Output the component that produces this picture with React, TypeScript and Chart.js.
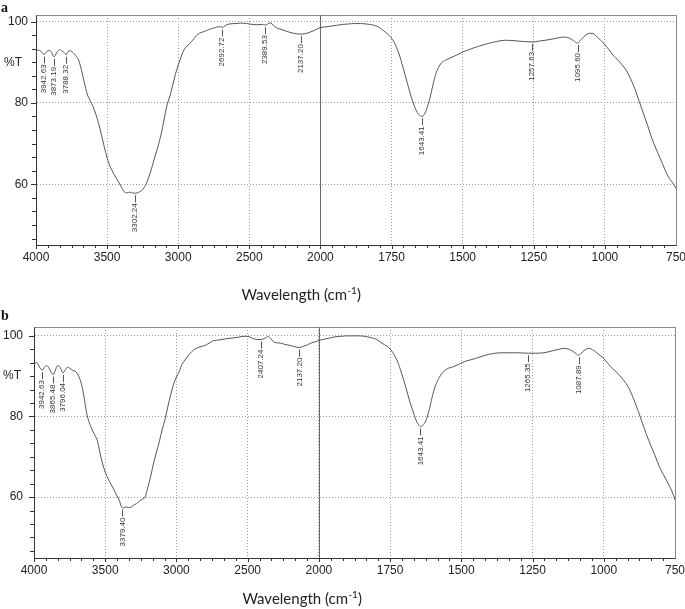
import React, { useEffect, useRef } from "react";
import { Chart, LinearScale, registerables } from "chart.js";

// ---------- data ----------
const X_TICKS = [4000, 3500, 3000, 2500, 2000, 1750, 1500, 1250, 1000, 750];
const Y_TICKS = [60, 80, 100];
const Y_UNIT_AT = 90;
const Y_UNIT = "%T";
const X_TITLE = "Wavelength (cm";
const X_TITLE_SUP = "-1";
const X_TITLE_END = ")";

const A_WN = [4000, 3985, 3965, 3942, 3925, 3905, 3890, 3873, 3855, 3835, 3815, 3800, 3788, 3775, 3760, 3740, 3720, 3700, 3680, 3660, 3640, 3620, 3600, 3580, 3560, 3540, 3520, 3500, 3480, 3460, 3440, 3420, 3400, 3380, 3360, 3340, 3320, 3300, 3280, 3260, 3240, 3220, 3200, 3180, 3160, 3140, 3120, 3100, 3080, 3060, 3040, 3020, 3000, 2980, 2960, 2940, 2920, 2900, 2880, 2860, 2840, 2820, 2800, 2780, 2760, 2740, 2720, 2700, 2692, 2680, 2660, 2640, 2600, 2560, 2520, 2480, 2440, 2410, 2390, 2370, 2355, 2340, 2320, 2300, 2270, 2240, 2200, 2170, 2137, 2110, 2080, 2050, 2020, 2000, 1980, 1960, 1940, 1920, 1900, 1880, 1860, 1840, 1820, 1800, 1785, 1770, 1755, 1740, 1725, 1710, 1695, 1680, 1665, 1655, 1643, 1635, 1625, 1615, 1605, 1595, 1585, 1575, 1560, 1545, 1520, 1500, 1470, 1440, 1410, 1380, 1350, 1320, 1290, 1257, 1230, 1200, 1170, 1145, 1125, 1110, 1096, 1085, 1070, 1055, 1045, 1030, 1015, 1000, 985, 970, 955, 940, 925, 910, 895, 880, 865, 850, 835, 820, 805, 790, 775, 760, 750];
const A_T = [92.5, 93.0, 92.7, 91.9, 92.6, 92.9, 92.4, 91.3, 92.3, 93.1, 92.7, 92.3, 91.8, 92.6, 92.8, 92.4, 91.6, 90.5, 88.0, 85.0, 82.2, 80.6, 79.2, 77.3, 75.0, 72.2, 69.2, 66.5, 64.5, 63.0, 61.8, 60.6, 59.4, 58.2, 57.9, 58.1, 57.9, 57.8, 58.0, 58.4, 59.2, 60.5, 62.5, 64.8, 67.2, 69.6, 72.3, 75.8, 79.3, 81.5, 84.2, 87.0, 89.3, 91.3, 93.0, 93.9, 94.6, 95.3, 96.2, 96.9, 97.3, 97.5, 97.8, 98.1, 98.3, 98.5, 98.7, 98.7, 98.5, 98.7, 99.2, 99.4, 99.5, 99.6, 99.5, 99.3, 99.2, 99.3, 99.1, 99.4, 99.7, 99.4, 98.7, 98.3, 98.0, 97.6, 97.2, 97.0, 96.9, 97.0, 97.3, 97.7, 98.2, 98.5, 98.7, 98.9, 99.1, 99.3, 99.4, 99.5, 99.5, 99.4, 99.2, 98.8, 98.1, 97.3, 96.3, 94.8, 92.3, 88.8, 85.0, 81.3, 78.4, 77.2, 76.7, 77.2, 78.8, 81.2, 84.3, 87.0, 88.7, 89.8, 90.5, 91.0, 91.8, 92.5, 93.3, 94.0, 94.6, 95.1, 95.4, 95.3, 95.1, 95.0, 95.2, 95.5, 95.9, 96.2, 95.9, 95.3, 94.7, 95.5, 96.5, 97.1, 97.1, 96.4, 95.4, 94.3, 93.0, 91.6, 90.6, 89.4, 88.0, 86.0, 83.5, 80.5, 77.5, 74.5, 71.3, 68.7, 66.3, 63.8, 61.6, 60.2, 59.0];
const A_PEAKS = ["3942.63", "3873.19", "3788.32", "3302.24", "2692.72", "2389.53", "2137.20", "1643.41", "1257.63", "1095.60"];

const B_WN = [4000, 3985, 3975, 3960, 3943, 3925, 3910, 3895, 3880, 3865, 3850, 3835, 3820, 3808, 3796, 3780, 3765, 3750, 3730, 3710, 3690, 3675, 3660, 3645, 3630, 3615, 3600, 3585, 3570, 3555, 3540, 3520, 3500, 3480, 3460, 3440, 3420, 3400, 3385, 3370, 3355, 3340, 3320, 3300, 3280, 3260, 3240, 3220, 3200, 3180, 3160, 3140, 3120, 3100, 3080, 3060, 3040, 3020, 3000, 2980, 2960, 2940, 2920, 2900, 2880, 2860, 2840, 2820, 2800, 2780, 2760, 2740, 2720, 2700, 2680, 2650, 2600, 2560, 2520, 2490, 2460, 2430, 2407, 2380, 2355, 2340, 2320, 2300, 2270, 2240, 2200, 2170, 2137, 2110, 2080, 2050, 2020, 2000, 1980, 1960, 1940, 1920, 1900, 1880, 1860, 1840, 1820, 1800, 1785, 1770, 1755, 1740, 1725, 1710, 1695, 1680, 1665, 1655, 1643, 1635, 1625, 1615, 1605, 1595, 1585, 1570, 1550, 1530, 1510, 1490, 1470, 1450, 1420, 1390, 1360, 1330, 1300, 1265, 1240, 1210, 1180, 1155, 1140, 1120, 1105, 1088, 1075, 1062, 1052, 1040, 1025, 1010, 1000, 985, 970, 955, 940, 925, 910, 895, 880, 865, 850, 835, 820, 805, 790, 775, 760, 750];
const B_T = [92.7, 93.4, 93.2, 92.2, 91.5, 92.3, 92.6, 92.0, 91.0, 90.4, 91.5, 92.6, 92.4, 91.5, 90.8, 91.6, 92.2, 92.0, 91.5, 91.2, 90.3, 89.0, 87.0, 84.0, 80.8, 78.8, 77.4, 76.2, 75.2, 74.0, 71.5, 68.5, 66.2, 64.6, 63.2, 61.9, 60.5, 59.1, 57.5, 57.3, 57.6, 57.4, 57.5, 58.0, 58.4, 59.0, 59.5, 60.0, 62.5, 65.3, 68.5, 71.2, 73.8, 76.8, 79.3, 82.5, 85.5, 88.0, 89.8, 91.2, 93.0, 94.0, 95.0, 95.8, 96.5, 96.9, 97.2, 97.4, 97.6, 98.0, 98.4, 98.8, 98.9, 99.0, 99.1, 99.3, 99.5, 99.7, 99.9, 99.8, 99.3, 99.1, 99.1, 99.4, 99.8, 99.4, 98.6, 98.3, 98.2, 97.9, 97.6, 97.3, 97.1, 97.4, 97.8, 98.3, 98.6, 98.9, 99.2, 99.5, 99.8, 99.9, 100.0, 100.0, 100.0, 99.9, 99.6, 99.2, 98.5, 97.8, 97.1, 95.8, 93.8, 90.8, 87.3, 83.5, 80.3, 78.5, 77.5, 77.8, 78.9, 81.0, 84.0, 86.8, 88.6, 90.5, 91.8, 92.3, 92.9, 93.6, 94.0, 94.4, 95.1, 95.6, 95.8, 95.8, 95.8, 95.7, 95.7, 95.8, 96.3, 96.7, 96.9, 96.6, 96.0, 95.2, 96.0, 96.7, 96.9, 96.6, 95.8, 95.0, 94.4, 93.1, 91.9, 91.0, 89.8, 88.5, 86.8, 84.3, 81.5, 78.5, 75.5, 72.8, 70.3, 67.6, 65.5, 63.5, 61.3, 59.3];
const B_PEAKS = ["3942.63", "3865.48", "3796.04", "3379.40", "2407.24", "2137.20", "1643.41", "1265.35", "1087.89"];

// ---------- piecewise FTIR axis (4000-2000 by 500, 2000-750 by 250) ----------
const BREAK = 2000;
function toU(v: number) {
  return v >= BREAK ? (4000 - v) / 500 : 4 + (BREAK - v) / 250;
}
function fromU(u: number) {
  return u <= 4 ? 4000 - u * 500 : BREAK - (u - 4) * 250;
}
const U_SPAN = toU(750);

class FtirScale extends LinearScale {
  static id = "ftir";
  static defaults = {};
  buildTicks() {
    return X_TICKS.map((value) => ({ value }));
  }
  getPixelForValue(value: any) {
    if (value === null || value === undefined || isNaN(value)) return NaN;
    return this.getPixelForDecimal(toU(value) / U_SPAN);
  }
  getValueForPixel(pixel: number) {
    return fromU(this.getDecimalForPixel(pixel) * U_SPAN);
  }
}

Chart.register(...registerables, FtirScale);

function valueAt(wn: number[], t: number[], x: number) {
  for (let i = 0; i < wn.length - 1; i++) {
    const a = wn[i], b = wn[i + 1];
    if ((x <= a && x >= b) || (x >= a && x <= b)) {
      const f = (x - a) / (b - a);
      return t[i] + f * (t[i + 1] - t[i]);
    }
  }
  return t[t.length - 1];
}

type Lay = {
  top: number; right: number; yw: number; xh: number; ymin: number; ymax: number;
  ypad: number; unitGap: number; titleX: number; titleDy: number;
};

function decorPlugin(wn: number[], t: number[], peaks: string[], lay: Lay) {
  return {
    id: "ftirDecor",
    beforeDatasetsDraw(chart: any) {
      const { ctx, chartArea: a, scales } = chart;
      const xs = scales.x, ys = scales.y;
      ctx.save();
      // frame top & right
      ctx.strokeStyle = "#8a8a8a";
      ctx.lineWidth = 1;
      ctx.setLineDash([]);
      ctx.beginPath();
      ctx.moveTo(Math.round(a.left) + 0.5, Math.round(a.top) + 0.5);
      ctx.lineTo(Math.round(a.right) + 0.5, Math.round(a.top) + 0.5);
      ctx.lineTo(Math.round(a.right) + 0.5, Math.round(a.bottom) + 0.5);
      ctx.stroke();
      // solid line at the scale break
      const xb = Math.round(xs.getPixelForValue(BREAK)) + 0.5;
      ctx.strokeStyle = "#6a6a6a";
      ctx.beginPath();
      ctx.moveTo(xb, a.top);
      ctx.lineTo(xb, a.bottom);
      ctx.stroke();
      // tick marks x
      ctx.strokeStyle = "#333";
      ctx.beginPath();
      for (let i = 0; i < X_TICKS.length - 1; i++) {
        const v0 = X_TICKS[i], v1 = X_TICKS[i + 1];
        for (let k = 0; k < 6; k++) {
          const v = v0 + ((v1 - v0) * k) / 6;
          const px = Math.round(xs.getPixelForValue(v)) + 0.5;
          ctx.moveTo(px, a.bottom);
          ctx.lineTo(px, a.bottom + (k === 0 ? 4 : 3));
        }
      }
      // tick marks y
      for (let v = 100; v > ys.min; v -= 20 / 6) {
        const py = Math.round(ys.getPixelForValue(v)) + 0.5;
        const major = Math.abs(v - Math.round(v / 20) * 20) < 0.01;
        ctx.moveTo(a.left - (major ? 5 : 4), py);
        ctx.lineTo(a.left, py);
      }
      ctx.stroke();
      ctx.restore();
    },
    afterDatasetsDraw(chart: any) {
      const { ctx, chartArea: a, scales } = chart;
      const xs = scales.x, ys = scales.y;
      ctx.save();
      // peak labels
      ctx.font = "8px 'Liberation Sans', Arial, sans-serif";
      ctx.fillStyle = "#333";
      ctx.strokeStyle = "#555";
      ctx.lineWidth = 1;
      peaks.forEach((p) => {
        const v = parseFloat(p);
        const x = xs.getPixelForValue(v);
        const y = ys.getPixelForValue(valueAt(wn, t, v)) + 2;
        const xr = Math.round(x) + 0.5;
        ctx.beginPath();
        ctx.moveTo(xr, y);
        ctx.lineTo(xr, y + 7);
        ctx.stroke();
        ctx.save();
        ctx.translate(x, y + 8);
        ctx.rotate(-Math.PI / 2);
        ctx.textAlign = "right";
        ctx.textBaseline = "middle";
        ctx.fillText(p, 0, 0);
        ctx.restore();
      });
      // unit label
      ctx.font = "12px 'Liberation Sans', Arial, sans-serif";
      ctx.fillStyle = "#222";
      ctx.textAlign = "right";
      ctx.textBaseline = "middle";
      ctx.fillText(Y_UNIT, a.left - lay.unitGap, ys.getPixelForValue(Y_UNIT_AT));
      // x title
      const f1 = "15px Lato, 'Open Sans', sans-serif";
      const f2 = "10px Lato, 'Open Sans', sans-serif";
      ctx.textAlign = "left";
      ctx.textBaseline = "alphabetic";
      ctx.font = f1;
      const w1 = ctx.measureText(X_TITLE).width;
      const w3 = ctx.measureText(X_TITLE_END).width;
      ctx.font = f2;
      const w2 = ctx.measureText(X_TITLE_SUP).width;
      const x0 = lay.titleX - (w1 + w2 + w3) / 2;
      const yb = a.bottom + lay.titleDy;
      ctx.font = f1;
      ctx.fillText(X_TITLE, x0, yb);
      ctx.fillText(X_TITLE_END, x0 + w1 + w2 + 0.5, yb);
      ctx.font = f2;
      ctx.fillText(X_TITLE_SUP, x0 + w1 + 0.3, yb - 6);
      ctx.restore();
    },
  };
}

function makeConfig(wn: number[], t: number[], peaks: string[], lay: Lay): any {
  const tickFont = { family: "'Liberation Sans', Arial, sans-serif", size: 12 };
  return {
    type: "line",
    data: {
      datasets: [
        {
          data: wn.map((x, i) => ({ x, y: t[i] })),
          borderColor: "#555",
          borderWidth: 1,
          pointRadius: 0,
          fill: false,
          cubicInterpolationMode: "monotone",
        },
      ],
    },
    options: {
      responsive: false,
      animation: false,
      events: [],
      layout: { padding: { top: lay.top, right: lay.right, left: 0, bottom: 0 } },
      plugins: { legend: { display: false }, tooltip: { enabled: false } },
      scales: {
        x: {
          type: "ftir",
          min: 750,
          max: 4000,
          grid: { color: "#9a9a9a", lineWidth: 1, drawTicks: false },
          border: { display: true, color: "#333", width: 1, dash: [1, 2] },
          ticks: {
            font: tickFont,
            color: "#222",
            padding: 5,
            maxRotation: 0,
            autoSkip: false,
            callback: (v: any) => String(v),
          },
          afterFit: (s: any) => {
            s.height = lay.xh;
            s.paddingLeft = 0;
            s.paddingRight = 0;
          },
        },
        y: {
          type: "linear",
          min: lay.ymin,
          max: lay.ymax,
          afterBuildTicks: (s: any) => {
            s.ticks = Y_TICKS.map((value) => ({ value }));
          },
          grid: { color: "#9a9a9a", lineWidth: 1, drawTicks: false },
          border: { display: true, color: "#333", width: 1, dash: [1, 2] },
          ticks: {
            font: tickFont,
            color: "#222",
            padding: lay.ypad,
            callback: (v: any) => String(v),
          },
          afterFit: (s: any) => {
            s.width = lay.yw;
            s.paddingTop = 0;
            s.paddingBottom = 0;
          },
        },
      },
    },
    plugins: [decorPlugin(wn, t, peaks, lay)],
  };
}

const LAY_A: Lay = { top: 15, right: 9, yw: 36, xh: 59, ymin: 45.1, ymax: 101.6, ypad: 8, unitGap: 14, titleX: 301, titleDy: 55 };
const LAY_B: Lay = { top: 23, right: 10, yw: 34, xh: 51, ymin: 44.9, ymax: 102.2, ypad: 11, unitGap: 13, titleX: 302, titleDy: 46 };

function Panel(props: { wn: number[]; t: number[]; peaks: string[]; lay: Lay; top: number; height: number; letter: string }) {
  const ref = useRef<HTMLCanvasElement | null>(null);
  useEffect(() => {
    const chart = new Chart(ref.current as HTMLCanvasElement, makeConfig(props.wn, props.t, props.peaks, props.lay));
    return () => chart.destroy();
  }, []);
  return (
    <>
      <canvas
        ref={ref}
        width={685}
        height={props.height}
        style={{ position: "absolute", left: 0, top: props.top, width: 685, height: props.height }}
      />
      <div
        style={{
          position: "absolute",
          left: 1,
          top: props.top + (props.letter === "a" ? 0 : 4),
          font: "bold 14px 'Liberation Serif', 'Times New Roman', serif",
          color: "#111",
          lineHeight: "16px",
        }}
      >
        {props.letter}
      </div>
    </>
  );
}

export default function App() {
  return (
    <div style={{ position: "fixed", left: 0, top: 0, width: 685, height: 609, background: "#fff", overflow: "hidden" }}>
      <Panel wn={A_WN} t={A_T} peaks={A_PEAKS} lay={LAY_A} top={0} height={304} letter="a" />
      <Panel wn={B_WN} t={B_T} peaks={B_PEAKS} lay={LAY_B} top={304} height={305} letter="b" />
    </div>
  );
}
